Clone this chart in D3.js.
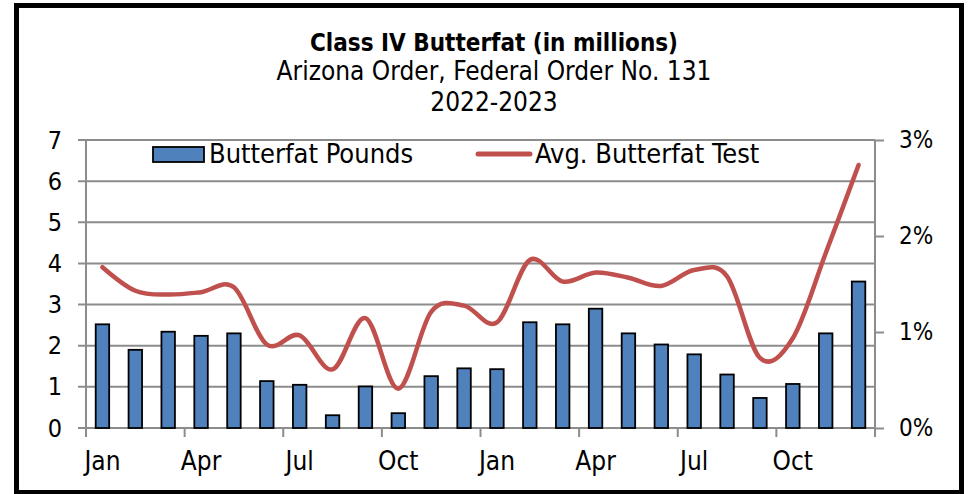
<!DOCTYPE html>
<html>
<head>
<meta charset="utf-8">
<script src="https://cdn.jsdelivr.net/npm/d3@7"></script>
<style>
  html, body { margin: 0; padding: 0; background: #fff; }
  svg { display: block; }
  text { font-family: "DejaVu Sans Condensed", "DejaVu Sans", sans-serif; fill: #000; }
</style>
</head>
<body>
<svg id="chart" width="972" height="494"></svg>
<script>
// ---- Data ----
const months = ["Jan 2022","Feb 2022","Mar 2022","Apr 2022","May 2022","Jun 2022","Jul 2022","Aug 2022","Sep 2022","Oct 2022","Nov 2022","Dec 2022",
                "Jan 2023","Feb 2023","Mar 2023","Apr 2023","May 2023","Jun 2023","Jul 2023","Aug 2023","Sep 2023","Oct 2023","Nov 2023","Dec 2023"];
const butterfatPounds = [2.52, 1.90, 2.34, 2.24, 2.30, 1.14, 1.05, 0.31, 1.01, 0.36, 1.26, 1.45,
                         1.43, 2.57, 2.52, 2.90, 2.30, 2.03, 1.79, 1.30, 0.73, 1.07, 2.30, 3.56];
const avgButterfatTest = [1.675, 1.43, 1.39, 1.415, 1.465, 0.87, 0.965, 0.61, 1.145, 0.41, 1.21, 1.275,
                          1.10, 1.75, 1.525, 1.62, 1.565, 1.48, 1.645, 1.58, 0.73, 0.935, 1.82, 2.74];
const xTickLabels = ["Jan","Apr","Jul","Oct","Jan","Apr","Jul","Oct"];
const leftTicks = [0,1,2,3,4,5,6,7];
const rightTicks = [0,1,2,3];
const titleLines = ["Class IV Butterfat (in millions)", "Arizona Order, Federal Order No. 131", "2022-2023"];
const seriesNames = ["Butterfat Pounds", "Avg. Butterfat Test"];

// ---- Layout ----
const svg = d3.select("#chart");
const plot = { left: 86, right: 875, top: 140, bottom: 428 };
const barColor = "#4F81BD", lineColor = "#C0504D", gridColor = "#8c8c8c";

const x = d3.scaleBand().domain(months).range([plot.left, plot.right]).padding(0);
const y = d3.scaleLinear().domain([0, 7]).range([plot.bottom, plot.top]);
const yR = d3.scaleLinear().domain([0, 3]).range([plot.bottom, plot.top]);
const bw = x.bandwidth();
const barW = bw * 0.41;

// Outer border
svg.append("rect").attr("x", 16.5).attr("y", 5.5).attr("width", 945).attr("height", 487)
  .attr("fill", "#fff").attr("stroke", "#000").attr("stroke-width", 5);

// Titles
const titleX = 494;
svg.append("text").attr("x", titleX).attr("y", 51).attr("text-anchor", "middle")
  .attr("font-size", 24).attr("font-weight", "bold").text(titleLines[0]);
svg.append("text").attr("x", titleX).attr("y", 80).attr("text-anchor", "middle")
  .attr("font-size", 26).text(titleLines[1]);
svg.append("text").attr("x", titleX).attr("y", 111).attr("text-anchor", "middle")
  .attr("font-size", 26).text(titleLines[2]);

// Gridlines
svg.append("g").selectAll("line").data(leftTicks).join("line")
  .attr("x1", plot.left - 8).attr("x2", plot.right)
  .attr("y1", d => y(d)).attr("y2", d => y(d))
  .attr("stroke", gridColor).attr("stroke-width", 2);

// Left axis
const leftAxis = d3.axisLeft(y).tickValues(leftTicks).tickSize(0).tickPadding(24).tickFormat(d3.format("d"));
const gL = svg.append("g").attr("transform", `translate(${plot.left},0)`).call(leftAxis);
gL.select(".domain").attr("stroke", gridColor).attr("stroke-width", 2).attr("d", `M0,${plot.top}V${plot.bottom + 9}`);
gL.selectAll("text").attr("font-size", 25).attr("font-family", null);

// Right axis
const rightAxis = d3.axisRight(yR).tickValues(rightTicks).tickSize(9).tickPadding(15).tickFormat(d => d + "%");
const gR = svg.append("g").attr("transform", `translate(${plot.right},0)`).call(rightAxis);
gR.select(".domain").attr("stroke", gridColor).attr("stroke-width", 2).attr("d", `M0,${plot.top}V${plot.bottom + 9}`);
gR.selectAll(".tick line").attr("stroke", gridColor).attr("stroke-width", 2);
gR.selectAll("text").attr("font-size", 24).attr("font-family", null);

// Bottom axis ticks (every 3 months at band boundaries)
const tickMonths = months.filter((d, i) => i % 3 === 0);
svg.append("g").selectAll("line").data(tickMonths).join("line")
  .attr("x1", d => x(d)).attr("x2", d => x(d))
  .attr("y1", plot.bottom).attr("y2", plot.bottom + 9)
  .attr("stroke", gridColor).attr("stroke-width", 2);
svg.append("line").attr("x1", plot.left).attr("x2", plot.right)
  .attr("y1", plot.bottom).attr("y2", plot.bottom)
  .attr("stroke", gridColor).attr("stroke-width", 2);
svg.append("g").selectAll("text").data(tickMonths).join("text")
  .attr("x", d => x(d) + bw / 2).attr("y", 470).attr("text-anchor", "middle")
  .attr("font-size", 26).text((d, i) => xTickLabels[i]);

// Bars
svg.append("g").selectAll("rect").data(butterfatPounds).join("rect")
  .attr("x", (d, i) => x(months[i]) + (bw - barW) / 2)
  .attr("y", d => y(d))
  .attr("width", barW)
  .attr("height", d => y(0) - y(d))
  .attr("fill", barColor).attr("stroke", "#000").attr("stroke-width", 1.8);

// Line
const line = d3.line()
  .x((d, i) => x(months[i]) + bw / 2)
  .y(d => yR(d))
  .curve(d3.curveCardinal.tension(0));
svg.append("path").datum(avgButterfatTest).attr("d", line)
  .attr("fill", "none").attr("stroke", lineColor).attr("stroke-width", 4.5)
  .attr("stroke-linecap", "round").attr("stroke-linejoin", "round");

// Legend
const lg = svg.append("g");
lg.append("rect").attr("x", 153).attr("y", 147).attr("width", 51).attr("height", 15)
  .attr("fill", barColor).attr("stroke", "#000").attr("stroke-width", 1.8);
lg.append("text").attr("x", 209).attr("y", 163).attr("font-size", 27).text(seriesNames[0]);
lg.append("line").attr("x1", 478).attr("x2", 530).attr("y1", 154).attr("y2", 154)
  .attr("stroke", lineColor).attr("stroke-width", 5).attr("stroke-linecap", "round");
lg.append("text").attr("x", 535).attr("y", 163).attr("font-size", 27).text(seriesNames[1]);
</script>
</body>
</html>
